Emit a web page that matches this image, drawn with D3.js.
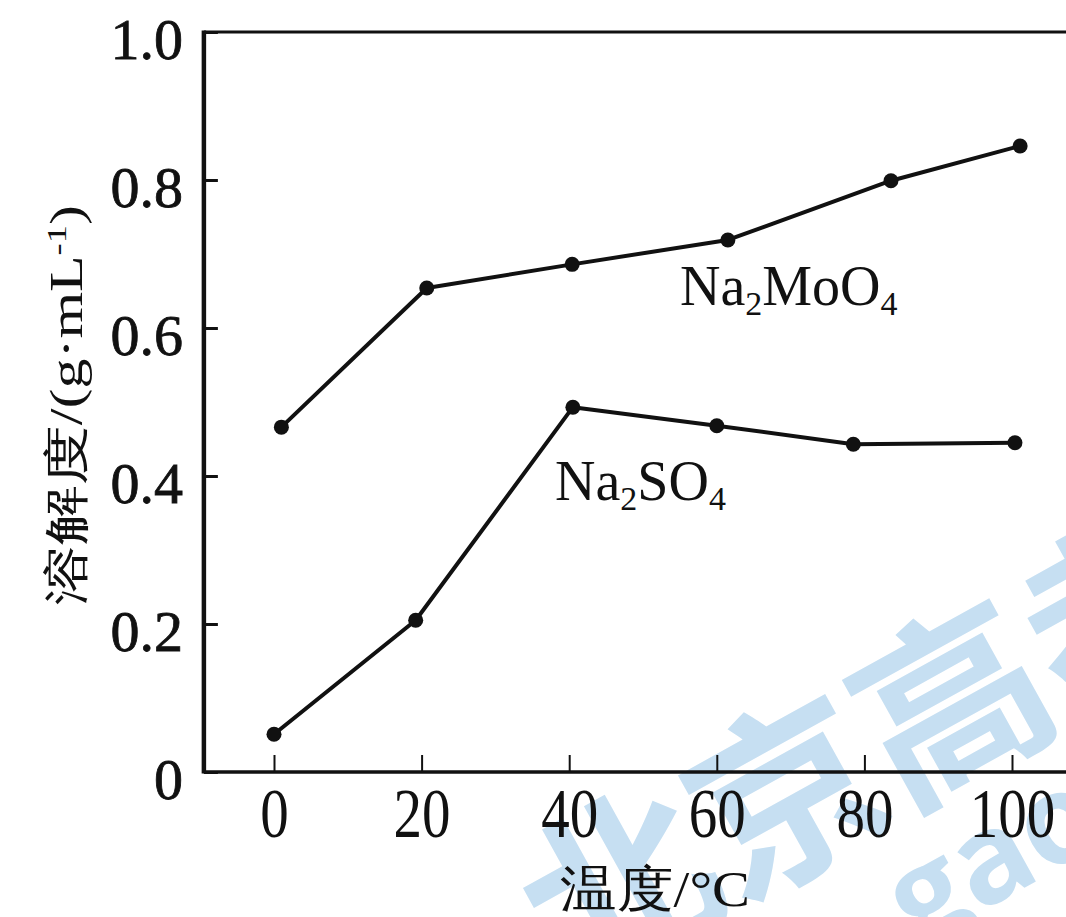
<!DOCTYPE html>
<html>
<head>
<meta charset="utf-8">
<script src="https://cdn.jsdelivr.net/npm/d3@7"></script>
<style>
  html, body { margin: 0; padding: 0; background: #fff; }
  svg { display: block; }
</style>
</head>
<body>
<svg width="1066" height="917"></svg>
<script>
// temperatures (°C) where the points sit, as drawn
let moTemps = [1, 20.7, 40.4, 61.5, 83.6, 101.1];
let moValues = [0.466, 0.654, 0.686, 0.719, 0.799, 0.846];
let soTemps = [0, 19.2, 40.5, 60, 78.5, 100.4];
let soValues = [0.051, 0.205, 0.493, 0.468, 0.443, 0.445];

let xTicks = [0, 20, 40, 60, 80, 100];
let yTicks = [0, 0.2, 0.4, 0.6, 0.8, 1.0];

let svg = d3.select('svg');
let width = +svg.attr('width');
let serif = '"Liberation Serif", "Times New Roman", serif';

let x = d3.scaleLinear().domain([0, 100]).range([274, 1012]);
let y = d3.scaleLinear().domain([0, 1]).range([772, 32]);
let left = x(-9.5);

// watermark, behind everything
let wm = svg.append('g').attr('fill', '#c6dff2')
    .style('font-weight', 'bold');
wm.append('text')
    .attr('transform', 'translate(570, 995) rotate(-29)')
    .style('font-family', '"Noto Sans CJK SC", sans-serif')
    .style('font-size', '190px')
    .text('北京高考');
wm.append('text')
    .attr('transform', 'translate(885, 965) rotate(-29)')
    .style('font-size', '125px')
    .style('font-family', '"Open Sans", sans-serif')
    .text('.gaokzx');

// frame
svg.append('line')
    .attr('x1', left).attr('x2', width + 5)
    .attr('y1', y(1)).attr('y2', y(1))
    .attr('stroke', '#111').attr('stroke-width', 3);
svg.append('line')
    .attr('x1', left).attr('x2', width + 5)
    .attr('y1', y(0)).attr('y2', y(0))
    .attr('stroke', '#111').attr('stroke-width', 3.5);
svg.append('line')
    .attr('x1', left).attr('x2', left)
    .attr('y1', y(1) - 1.5).attr('y2', y(0) + 1.5)
    .attr('stroke', '#111').attr('stroke-width', 4.5);

// x axis
let gx = svg.append('g')
    .attr('transform', `translate(0, ${y(0)})`)
    .call(d3.axisBottom(x).tickValues(xTicks).tickSizeInner(-17).tickSizeOuter(0));
gx.select('.domain').remove();
gx.selectAll('.tick line').attr('stroke', '#111').attr('stroke-width', 2);
gx.selectAll('.tick text')
    .attr('y', null).attr('dy', null)
    .attr('transform', 'translate(0, 65) scale(1, 1.24)')
    .attr('fill', '#111')
    .style('font-family', serif)
    .style('font-size', '57px');

// y axis
let gy = svg.append('g')
    .attr('transform', `translate(${left}, 0)`)
    .call(d3.axisLeft(y).tickValues(yTicks).tickSizeInner(-14).tickSizeOuter(0)
      .tickFormat((d) => d === 0 ? '0' : d.toFixed(1)));
gy.select('.domain').remove();
gy.selectAll('.tick line').attr('stroke', '#111').attr('stroke-width', 3);
gy.selectAll('.tick text')
    .attr('x', -21)
    .attr('dy', '0.45em')
    .attr('fill', '#111')
    .attr('stroke', '#111')
    .attr('stroke-width', 0.8)
    .style('font-family', serif)
    .style('font-size', '58px');

// series
let line = d3.line().x((d) => x(d[0])).y((d) => y(d[1]));
let series = [
  d3.zip(moTemps, moValues),
  d3.zip(soTemps, soValues)
];

series.forEach((pts) => {
  svg.append('path')
      .datum(pts)
      .attr('d', line)
      .attr('fill', 'none')
      .attr('stroke', '#111')
      .attr('stroke-width', 4)
      .attr('stroke-linejoin', 'round');
  svg.selectAll(null)
      .data(pts)
    .enter().append('circle')
      .attr('cx', (d) => x(d[0]))
      .attr('cy', (d) => y(d[1]))
      .attr('r', 7.5)
      .attr('fill', '#111');
});

// series labels with subscripts
function formula(px, py, parts) {
  let t = svg.append('text')
      .attr('x', px).attr('y', py)
      .attr('fill', '#111')
      .style('font-family', serif)
      .style('font-size', '56px');
  parts.forEach((p) => {
    if (p.sub) {
      t.append('tspan').attr('dy', 10).style('font-size', '34px').text(p.text);
    } else {
      t.append('tspan').attr('dy', p.after ? -10 : 0).text(p.text);
    }
  });
}
formula(680, 305, [{text: 'Na'}, {text: '2', sub: true}, {text: 'MoO', after: true}, {text: '4', sub: true}]);
formula(555, 500, [{text: 'Na'}, {text: '2', sub: true}, {text: 'SO', after: true}, {text: '4', sub: true}]);

// axis titles
let yt = svg.append('text')
    .attr('transform', 'translate(82, 405) rotate(-90)')
    .attr('text-anchor', 'middle')
    .attr('fill', '#111')
    .attr('textLength', 400)
    .attr('lengthAdjust', 'spacingAndGlyphs')
    .style('font-family', serif)
    .style('font-size', '46px');
yt.append('tspan').text('溶解度/(g·mL');
yt.append('tspan').attr('dy', -16).style('font-size', '28px').text('-1');
yt.append('tspan').attr('dy', 16).text(')');

svg.append('text')
    .attr('x', 655).attr('y', 906)
    .attr('text-anchor', 'middle')
    .attr('fill', '#111')
    .attr('textLength', 190)
    .attr('lengthAdjust', 'spacingAndGlyphs')
    .style('font-family', serif)
    .style('font-size', '50px')
    .text('温度/°C');
</script>
</body>
</html>
